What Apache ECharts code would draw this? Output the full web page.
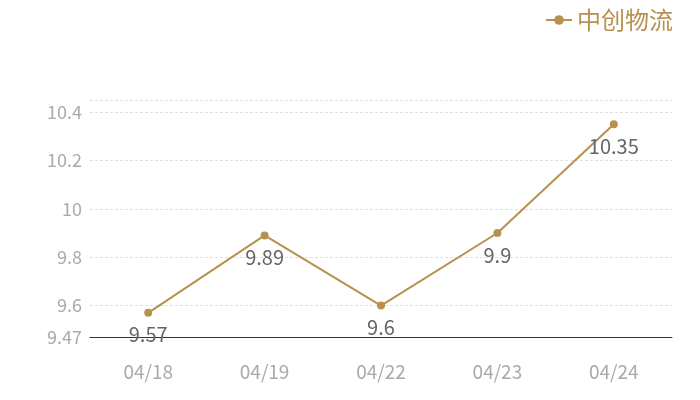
<!DOCTYPE html>
<html><head><meta charset="utf-8">
<script src="https://cdn.jsdelivr.net/npm/echarts@6/dist/echarts.min.js"></script>
<style>html,body{margin:0;padding:0;background:#fff}#c{width:700px;height:400px}</style>
</head><body><div id="c"></div>
<script>
const categories = ['04/18','04/19','04/22','04/23','04/24'];
const values = [9.57, 9.89, 9.6, 9.9, 10.35];
const seriesName = '中创物流';
const yMin = 9.47, yMax = 10.45;
const font = '"Noto Sans CJK SC", "Noto Sans", sans-serif';
const chart = echarts.init(document.getElementById('c'));
chart.setOption({
  animation: false,
  textStyle: {fontFamily: font},
  legend: {right: 22, top: 3, itemWidth: 26, itemHeight: 12, itemGap: 6,
    textStyle: {color: '#b8904f', fontSize: 24, fontFamily: font},
    data: [seriesName]},
  grid: {left: 90, right: 28, top: 100, bottom: 63},
  xAxis: {type: 'category', data: categories,
    axisLine: {lineStyle: {color: '#333'}}, axisTick: {show: false},
    axisLabel: {color: '#aaa', fontSize: 19, margin: 25, fontFamily: font}},
  yAxis: {type: 'value', min: yMin, max: yMax,
    axisLine: {show: false}, axisTick: {show: false},
    splitLine: {lineStyle: {type: [3, 2], color: '#e0e0e0'}},
    axisLabel: {color: '#aaa', fontSize: 18, showMaxLabel: false, margin: 8, fontFamily: font}},
  series: [{name: seriesName, type: 'line', data: values,
    symbol: 'circle', symbolSize: 8,
    itemStyle: {color: '#b8904f'}, lineStyle: {color: '#b8904f', width: 2},
    label: {show: true, position: 'bottom', distance: 8, color: '#666', fontSize: 20, fontFamily: font}}]
});
</script></body></html>
